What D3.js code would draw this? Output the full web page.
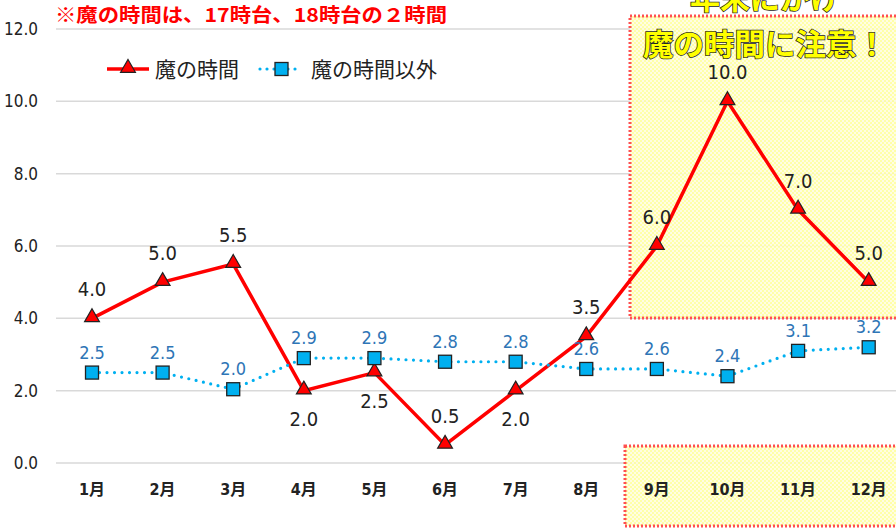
<!DOCTYPE html>
<html>
<head>
<meta charset="utf-8">
<script src="https://cdn.jsdelivr.net/npm/d3@7"></script>
<style>
  body { margin: 0; background: #fff; }
  svg { display: block; }
</style>
</head>
<body>
<script>
// data
const months = ['1月', '2月', '3月', '4月', '5月', '6月', '7月', '8月', '9月', '10月', '11月', '12月'];
const majiValues = [4.0, 5.0, 5.5, 2.0, 2.5, 0.5, 2.0, 3.5, 6.0, 10.0, 7.0, 5.0];
const otherValues = [2.5, 2.5, 2.04, 2.9, 2.9, 2.8, 2.8, 2.6, 2.6, 2.4, 3.1, 3.2];
const yTicks = [0, 2, 4, 6, 8, 10, 12];
// labels of the red series that sit under the point
const labelsBelow = ['4月', '5月', '7月'];

const W = 896, H = 529;
const NUM = '"DejaVu Sans Condensed", "Noto Sans CJK JP", sans-serif';
const JP = '"Noto Sans CJK JP", sans-serif';

const svg = d3.select('body').append('svg').attr('width', W).attr('height', H);

const defs = svg.append('defs');
const pat = defs.append('pattern').attr('id', 'yellowDots')
    .attr('width', 4).attr('height', 4).attr('patternUnits', 'userSpaceOnUse');
pat.append('rect').attr('width', 4).attr('height', 4).attr('fill', '#fffde0');
pat.append('rect').attr('width', 2).attr('height', 2).attr('fill', '#ffffa0');
pat.append('rect').attr('x', 2).attr('y', 2).attr('width', 2).attr('height', 2).attr('fill', '#ffffa0');

// scales
const x = d3.scaleBand().domain(months).range([56.7, 904]);
const cx = (m) => x(m) + x.bandwidth() / 2;
const y = d3.scaleLinear().domain([0, 12]).range([463, 29]);

// gridlines
svg.append('g').selectAll('line').data(yTicks).enter().append('line')
    .attr('x1', 56).attr('x2', W)
    .attr('y1', (d) => y(d)).attr('y2', (d) => y(d))
    .attr('stroke', '#d9d9d9').attr('stroke-width', 1.5);

// y axis labels
const yAxis = svg.append('g')
    .attr('transform', 'translate(38,0)')
    .call(d3.axisLeft(y).tickValues(yTicks).tickSize(0).tickPadding(0).tickFormat(d3.format('.1f')));
yAxis.select('.domain').remove();
yAxis.selectAll('text').attr('font-family', NUM).attr('font-size', 17).attr('fill', '#222');

// highlight boxes
const boxStyle = (sel) => sel.attr('fill', 'url(#yellowDots)').attr('fill-opacity', 0.9)
    .attr('stroke', '#ff5050').attr('stroke-width', 3).attr('stroke-dasharray', '2 2');
svg.append('rect').attr('x', 630).attr('y', 16).attr('width', 280).attr('height', 302).call(boxStyle);
svg.append('rect').attr('x', 625).attr('y', 446).attr('width', 285).attr('height', 80).call(boxStyle);

// x axis labels
const xAxis = svg.append('g')
    .attr('transform', 'translate(0,484)')
    .call(d3.axisBottom(x).tickSize(0).tickPadding(0));
xAxis.select('.domain').remove();
xAxis.selectAll('text').attr('font-family', NUM).attr('font-size', 16)
    .attr('font-weight', 'bold').attr('fill', '#222');

// lines
const lineOf = d3.line().x((d, i) => cx(months[i])).y((d) => y(d));
svg.append('path').datum(majiValues).attr('d', lineOf)
    .attr('fill', 'none').attr('stroke', '#ff0000').attr('stroke-width', 3.5);
svg.append('path').datum(otherValues).attr('d', lineOf)
    .attr('fill', 'none').attr('stroke', '#00b0f0').attr('stroke-width', 3.2)
    .attr('stroke-linecap', 'round').attr('stroke-dasharray', '0 7.5');

// markers
const tri = d3.symbol().type(d3.symbolTriangle).size(95);
svg.append('g').selectAll('path').data(majiValues).enter().append('path')
    .attr('d', tri)
    .attr('transform', (d, i) => `translate(${cx(months[i])},${y(d) - 1})`)
    .attr('fill', '#ff0000').attr('stroke', '#222').attr('stroke-width', 1.2);
svg.append('g').selectAll('rect').data(otherValues).enter().append('rect')
    .attr('x', (d, i) => cx(months[i]) - 6.5).attr('y', (d) => y(d) - 6.5)
    .attr('width', 13).attr('height', 13)
    .attr('fill', '#00b0f0').attr('stroke', '#222').attr('stroke-width', 1.3);

// data labels
svg.append('g').selectAll('text').data(otherValues).enter().append('text')
    .attr('x', (d, i) => cx(months[i])).attr('y', (d) => y(d) - 14)
    .attr('text-anchor', 'middle').attr('font-family', NUM).attr('font-size', 18)
    .attr('fill', '#2e75b6').text((d) => d.toFixed(1));
svg.append('g').selectAll('text').data(majiValues).enter().append('text')
    .attr('x', (d, i) => cx(months[i]))
    .attr('y', (d, i) => labelsBelow.includes(months[i]) ? y(d) + 35 : y(d) - 22)
    .attr('text-anchor', 'middle').attr('font-family', NUM).attr('font-size', 20)
    .attr('fill', '#222').text((d) => d.toFixed(1));

// title note
svg.append('text').attr('x', 55).attr('y', 22)
    .attr('font-family', JP).attr('font-size', 19).attr('font-weight', 'bold')
    .attr('fill', '#ff0000').attr('textLength', 392).attr('lengthAdjust', 'spacingAndGlyphs')
    .text('※魔の時間は、17時台、18時台の２時間');

// legend
const legend = svg.append('g');
legend.append('line').attr('x1', 107).attr('x2', 149).attr('y1', 69).attr('y2', 69)
    .attr('stroke', '#ff0000').attr('stroke-width', 3.5);
legend.append('path').attr('d', tri).attr('transform', 'translate(128,68)')
    .attr('fill', '#ff0000').attr('stroke', '#222').attr('stroke-width', 1.2);
legend.append('text').attr('x', 155).attr('y', 77).attr('font-family', JP).attr('font-size', 21)
    .attr('fill', '#222').text('魔の時間');
legend.append('line').attr('x1', 260).attr('x2', 302).attr('y1', 69).attr('y2', 69)
    .attr('stroke', '#00b0f0').attr('stroke-width', 3.2)
    .attr('stroke-linecap', 'round').attr('stroke-dasharray', '0 7');
legend.append('rect').attr('x', 275).attr('y', 62.5).attr('width', 13).attr('height', 13)
    .attr('fill', '#00b0f0').attr('stroke', '#222').attr('stroke-width', 1.3);
legend.append('text').attr('x', 311).attr('y', 77).attr('font-family', JP).attr('font-size', 21)
    .attr('fill', '#222').text('魔の時間以外');

// callout text
const callout = svg.append('g').attr('font-family', JP).attr('font-size', 30).attr('font-weight', 'bold')
    .attr('fill', '#ffff00').attr('stroke', '#222').attr('stroke-width', 1.5)
    .attr('text-anchor', 'middle').attr('paint-order', 'stroke');
callout.append('text').attr('x', 765).attr('y', 9).text('年末にかけ');
callout.append('text').attr('x', 765).attr('y', 55).attr('textLength', 244)
    .attr('lengthAdjust', 'spacingAndGlyphs').text('魔の時間に注意！');
</script>
</body>
</html>
